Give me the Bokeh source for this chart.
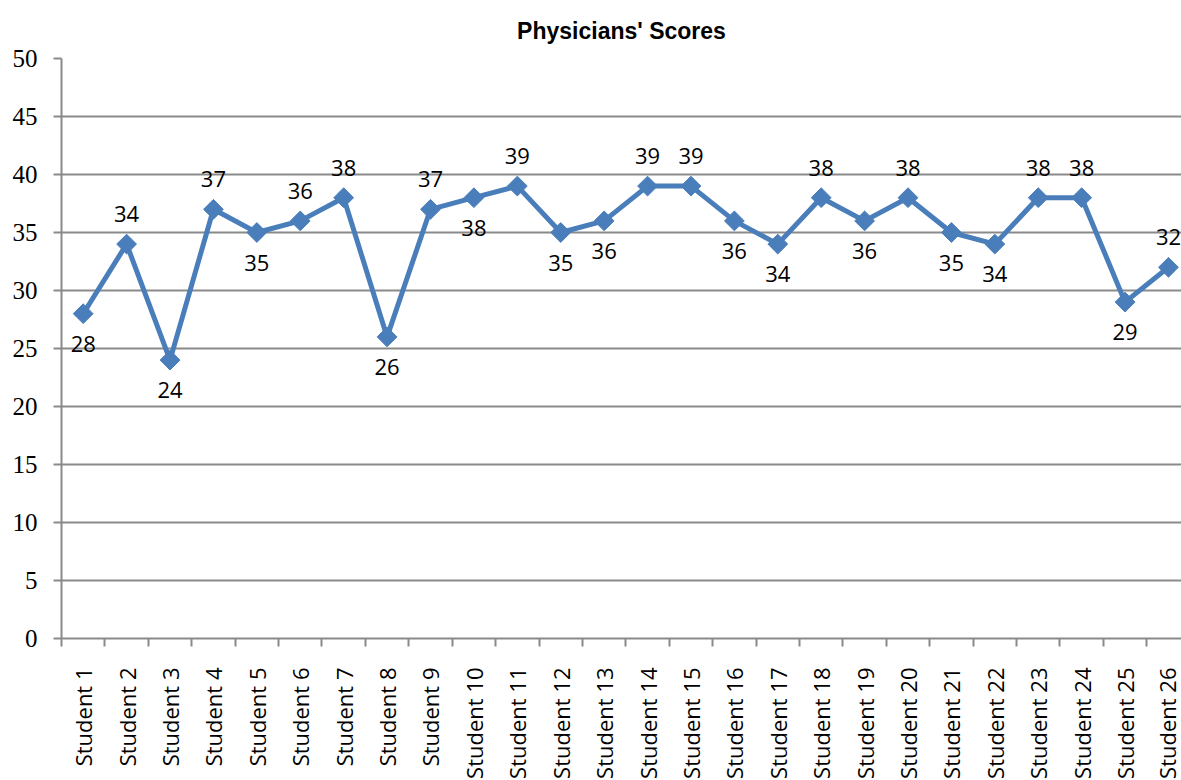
import math
from bokeh.plotting import figure
from bokeh.models import ColumnDataSource, FixedTicker, Range1d, LabelSet
from bokeh.core.properties import value
from bokeh.embed import file_html
from bokeh.resources import INLINE

students = [f"Student {i}" for i in range(1, 27)]
scores = [28, 34, 24, 37, 35, 36, 38, 26, 37, 38, 39, 35, 36,
          39, 39, 36, 34, 38, 36, 38, 35, 34, 38, 38, 29, 32]
label_side = ["below", "above", "below", "above", "below", "above", "above",
              "below", "above", "below", "above", "below", "below", "above",
              "above", "below", "below", "above", "below", "above", "below",
              "below", "above", "above", "below", "above"]
y_ticks = [0, 5, 10, 15, 20, 25, 30, 35, 40, 45, 50]

xs = list(range(1, len(students) + 1))
offsets = [30 if s == "above" else -30 for s in label_side]
src = ColumnDataSource(dict(x=xs, y=scores, lab=[str(v) for v in scores], off=offsets))

BLUE = "#4A7EBB"
GRAY = "#8A8A8A"
SANS = "Open Sans"

p = figure(frame_width=1120, frame_height=580,
           x_range=Range1d(0.5, 26.3), y_range=Range1d(0, 50),
           output_backend="svg", toolbar_location=None,
           min_border_left=61, min_border_right=0, min_border_top=57, min_border_bottom=0)
p.outline_line_color = None
p.background_fill_color = "white"

p.title.text = "Physicians' Scores"
p.title.align = "center"
p.title.text_font = "Liberation Sans"
p.title.text_font_style = "bold"
p.title.text_font_size = "23px"
p.title.text_color = "black"
p.title.standoff = 30

p.xgrid.grid_line_color = None
p.ygrid.grid_line_color = GRAY
p.ygrid.grid_line_width = 2
p.ygrid.ticker = FixedTicker(ticks=y_ticks)

ax = p.xaxis[0]
ax.ticker = FixedTicker(ticks=xs, minor_ticks=[i + 0.5 for i in range(0, 27)])
ax.major_label_overrides = {x: s for x, s in zip(xs, students)}
ax.major_label_orientation = math.pi / 2
ax.major_tick_line_color = None
ax.minor_tick_line_color = GRAY
ax.minor_tick_line_width = 2
ax.minor_tick_out = 8
ax.minor_tick_in = 0
ax.axis_line_color = GRAY
ax.axis_line_width = 2
ax.major_label_text_font = SANS
ax.major_label_text_font_size = "22px"
ax.major_label_text_color = "black"
ax.major_label_standoff = 21

ay = p.yaxis[0]
ay.ticker = FixedTicker(ticks=y_ticks)
ay.major_tick_line_color = GRAY
ay.major_tick_line_width = 2
ay.major_tick_out = 8
ay.major_tick_in = 0
ay.minor_tick_line_color = None
ay.axis_line_color = GRAY
ay.axis_line_width = 2
ay.major_label_text_font = "Liberation Serif"
ay.major_label_text_font_size = "25px"
ay.major_label_text_color = "black"
ay.major_label_standoff = 16

p.line("x", "y", source=src, line_width=5, line_color=BLUE)
p.scatter("x", "y", source=src, marker="square", angle=math.pi / 4, size=14,
          fill_color=BLUE, line_color=BLUE)

labels = LabelSet(x="x", y="y", text="lab", y_offset="off", source=src,
                  text_align="center", text_baseline="middle",
                  text_font=value(SANS), text_font_size=value("22px"), text_color="black")
p.add_layout(labels)

open("out.html", "w").write(file_html(p, INLINE))
